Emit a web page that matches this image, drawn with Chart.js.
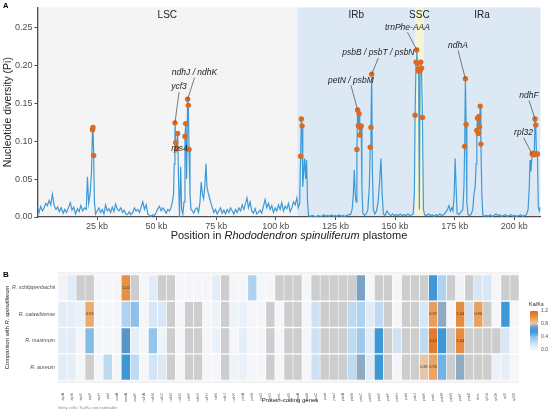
<!DOCTYPE html>
<html>
<head>
<meta charset="utf-8">
<script src="https://cdn.jsdelivr.net/npm/chart.js@4.4.1/dist/chart.umd.min.js"></script>
<style>
  html, body { margin: 0; padding: 0; background: #fff; }
  #wrap { position: relative; width: 550px; height: 413px; }
  #piChart { position: absolute; left: 0; top: 0; }
  #kaksChart { position: absolute; left: 0; top: 250px; }
</style>
</head>
<body>
<div id="wrap">
  <canvas id="piChart" width="550" height="250"></canvas>
  <canvas id="kaksChart" width="550" height="163"></canvas>
</div>
<script>
Chart.defaults.font.family = '"Liberation Sans", Arial, sans-serif';
Chart.defaults.color = '#4d4d4d';
Chart.defaults.animation = false;
const FONT = '"Liberation Sans", Arial, sans-serif';

// ---------- panel A: sliding-window nucleotide diversity ----------
const positionKb = [
  // LSC
  0, 0.7, 1.4, 2.1, 2.8, 3.5, 4.2, 4.9, 5.6, 6.3, 7.0, 7.8, 8.5, 9.2, 10.0, 10.8, 11.5, 12.2, 13.0, 13.8,
  14.5, 15.2, 16.0, 16.8, 17.5, 18.2, 19.0, 19.8, 20.5, 21.0, 21.5, 22.1, 22.7, 23.1, 23.3, 23.6, 23.9, 24.4,
  25.1, 25.8, 26.5, 27.2, 27.9, 28.6, 29.3, 30.0, 30.7, 31.4, 32.1, 32.8, 33.5, 34.2, 35.0, 35.7, 36.4, 37.1,
  37.8, 38.5, 39.2, 40.0, 40.7, 41.4, 42.1, 42.8, 43.5, 44.2, 44.9, 45.6, 46.3, 47.0, 47.7, 48.4, 49.1, 49.8,
  50.5, 51.2, 51.9, 52.6, 53.3, 54.0, 54.7, 55.4, 56.0, 56.6,
  57.1, 57.4, 57.7, 58.0, 58.4, 58.8, 59.2, 59.6, 60.1, 60.5, 61.0, 61.5, 61.9, 62.2, 62.6, 63.0, 63.3, 63.6, 64.0, 64.4,
  65.0, 65.6, 66.2, 66.9, 67.6, 68.2, 68.7, 69.2, 69.7, 70.2, 70.7, 71.1, 71.6, 72.2, 72.8, 73.4, 74.0, 74.7,
  75.4, 76.1, 76.8, 77.5, 78.2, 78.9, 79.6, 80.3, 81.0, 81.7, 82.4, 83.1, 83.8, 84.5, 85.2, 85.9, 86.6, 87.3,
  87.9, 88.5, 89.2, 89.9, 90.6, 91.3, 92.0, 92.7, 93.4, 94.1, 94.8, 95.5, 96.2, 96.9, 97.6, 98.3, 99.0, 99.7,
  100.4, 101.1, 101.8, 102.5, 103.2, 103.9, 104.6, 105.3, 106.0, 106.7, 107.4, 108.1, 108.8, 109.4,
  // IRb
  110.0, 110.4, 110.7, 111.0, 111.3, 111.7, 112.1, 112.5, 112.9, 113.3, 113.7, 114.5, 115.3, 116.1, 116.9,
  117.7, 118.5, 119.3, 120.1, 120.9, 121.7, 122.5, 123.3, 124.1, 124.9, 125.7, 126.5, 127.3, 128.1, 128.9,
  129.7, 130.5, 131.3, 132.0, 132.5, 132.9, 133.3, 133.7, 134.0, 134.3, 134.6, 134.9, 135.2, 135.5, 135.8,
  136.1, 136.5, 137.2, 137.9, 138.6, 139.2, 139.6, 139.9, 140.2, 140.5, 140.9, 141.5, 142.2, 142.9, 143.5,
  144.1, 144.6, 145.1, 145.8, 146.6, 147.4, 148.2, 149.0, 149.8, 150.6, 151.4, 152.2, 153.0, 153.8, 154.6,
  155.4, 156.2, 157.0, 157.6,
  // SSC
  158.1, 158.4, 158.8, 159.1, 159.4, 159.7, 159.9, 160.2, 160.5, 160.8, 161.1, 161.5, 161.9, 162.4,
  // IRa
  163.2, 164.0, 164.8, 165.6, 166.4, 167.2, 168.0, 168.8, 169.6, 170.4, 171.2, 172.0, 172.6, 173.2, 173.8,
  174.3, 174.8, 175.2, 175.6, 176.0, 176.8, 177.6, 178.4, 178.9, 179.2, 179.5, 179.8, 180.1, 180.6, 181.3,
  182.0, 182.6, 183.1, 183.6, 184.0, 184.3, 184.6, 184.9, 185.1, 185.4, 185.7, 186.0, 186.4, 186.8, 187.5,
  188.3, 189.1, 189.9, 190.7, 191.5, 192.3, 193.1, 193.9, 194.7, 195.5, 196.3, 197.1, 197.9, 198.7, 199.5,
  200.3, 201.1, 201.9, 202.7, 203.5, 204.3, 205.1, 205.8, 206.3, 206.6, 207.0, 207.5, 208.0, 208.4, 208.7,
  209.0, 209.3, 209.7, 210.1, 210.5, 210.9
];
const piValues = [
  // LSC
  0.014, 0.006, 0.014, 0.008, 0.012, 0.018, 0.015, 0.022, 0.016, 0.030, 0.015, 0.010, 0.013, 0.007, 0.012, 0.005, 0.010, 0.006, 0.012, 0.019,
  0.009, 0.013, 0.004, 0.011, 0.007, 0.015, 0.008, 0.012, 0.010, 0.053, 0.018, 0.030, 0.060, 0.115, 0.118, 0.081, 0.020, 0.004,
  0.008, 0.012, 0.006, 0.010, 0.004, 0.016, 0.008, 0.011, 0.006, 0.013, 0.007, 0.017, 0.010, 0.008, 0.012, 0.006, 0.009, 0.004,
  0.003, 0.007, 0.003, 0.006, 0.012, 0.008, 0.010, 0.006, 0.013, 0.020, 0.010, 0.016, 0.004, 0.002, 0.001, 0.003, 0.002, 0.006,
  0.011, 0.014, 0.008, 0.012, 0.009, 0.005, 0.010, 0.008, 0.012, 0.020,
  0.030, 0.070, 0.124, 0.098, 0.090, 0.110, 0.050, 0.000, 0.066, 0.010, 0.004, 0.020, 0.106, 0.123, 0.050, 0.155, 0.147, 0.089, 0.030, 0.010,
  0.008, 0.005, 0.010, 0.012, 0.006, 0.020, 0.046, 0.030, 0.024, 0.040, 0.070, 0.040, 0.032, 0.025, 0.018, 0.012, 0.006, 0.010,
  0.004, 0.008, 0.012, 0.005, 0.009, 0.004, 0.010, 0.006, 0.012, 0.008, 0.004, 0.010, 0.006, 0.012, 0.008, 0.016, 0.010, 0.018,
  0.025, 0.012, 0.020, 0.008, 0.005, 0.011, 0.004, 0.006, 0.009, 0.005, 0.014, 0.023, 0.012, 0.018, 0.010, 0.015, 0.006, 0.012,
  0.008, 0.016, 0.010, 0.019, 0.008, 0.014, 0.011, 0.018, 0.007, 0.012, 0.020, 0.016, 0.025, 0.012,
  // IRb
  0.018, 0.080, 0.129, 0.120, 0.040, 0.060, 0.077, 0.050, 0.075, 0.020, 0.002, 0.001, 0.002, 0.001, 0.000,
  0.002, 0.001, 0.001, 0.003, 0.001, 0.002, 0.001, 0.003, 0.001, 0.002, 0.001, 0.003, 0.001, 0.002, 0.001,
  0.002, 0.003, 0.003, 0.010, 0.030, 0.062, 0.030, 0.020, 0.089, 0.141, 0.120, 0.136, 0.108, 0.118, 0.120,
  0.040, 0.005, 0.002, 0.004, 0.010, 0.040, 0.092, 0.118, 0.188, 0.060, 0.010, 0.004, 0.008, 0.020, 0.045,
  0.077, 0.030, 0.004, 0.002, 0.008, 0.004, 0.002, 0.004, 0.002, 0.003, 0.002, 0.004, 0.002, 0.003, 0.002,
  0.004, 0.002, 0.003, 0.004,
  // SSC
  0.030, 0.134, 0.204, 0.220, 0.202, 0.195, 0.192, 0.010, 0.193, 0.204, 0.196, 0.131, 0.010, 0.003,
  // IRa
  0.002, 0.004, 0.002, 0.003, 0.001, 0.003, 0.002, 0.004, 0.002, 0.003, 0.006, 0.010, 0.015, 0.008, 0.012,
  0.008, 0.030, 0.077, 0.040, 0.005, 0.003, 0.006, 0.010, 0.040, 0.093, 0.182, 0.122, 0.020, 0.003, 0.002,
  0.004, 0.010, 0.030, 0.040, 0.070, 0.114, 0.130, 0.110, 0.132, 0.119, 0.146, 0.096, 0.030, 0.003, 0.001,
  0.002, 0.001, 0.003, 0.001, 0.002, 0.004, 0.002, 0.003, 0.001, 0.002, 0.003, 0.001, 0.002, 0.003, 0.001,
  0.002, 0.001, 0.002, 0.003, 0.001, 0.002, 0.003, 0.010, 0.040, 0.075, 0.060, 0.083, 0.084, 0.082, 0.129,
  0.121, 0.083, 0.083, 0.012, 0.008, 0.013
];
const xTicksKb = [25, 50, 75, 100, 125, 150, 175, 200];
const yTicksPi = [0, 0.05, 0.10, 0.15, 0.20, 0.25];
const regionNames = ['LSC', 'IRb', 'SSC', 'IRa'];
const regionStartKb = [0, 109, 158.4, 162];
const regionEndKb = [109, 158.4, 162, 211];
const hotspotCutoff = 0.08;

// gene annotations: label position and the window it points at
const geneLabels = ['ndhJ / ndhK', 'ycf3', 'rps4', 'petN / psbM', 'psbB / psbT / psbN', 'trnPhe-AAA', 'ndhA', 'ndhF', 'rpl32'];
const labelKb = [65.9, 59.4, 59.6, 131.5, 143.0, 155.2, 176.4, 206.2, 203.9];
const labelPi = [0.190, 0.171, 0.090, 0.180, 0.216, 0.250, 0.226, 0.160, 0.111];
const targetKb = [63.0, 57.7, null, 134.3, 140.2, 159.1, 179.5, 208.7, 207.5];
const targetPi = [0.155, 0.124, null, 0.141, 0.188, 0.220, 0.182, 0.129, 0.083];

const regionFill = { LSC: '#f4f4f4', IRb: '#dce9f5', SSC: '#f3f5d3', IRa: '#dce9f5' };

const piPoints = positionKb.map((kb, i) => ({ x: kb, y: piValues[i] }));
const hotspots = piPoints.filter(p => p.y >= hotspotCutoff);

function drawMixed(ctx, parts, cx, cy, size, color) {
  let total = 0;
  parts.forEach(p => {
    ctx.font = (p[1] ? 'italic ' : '') + size + 'px ' + FONT;
    total += ctx.measureText(p[0]).width;
  });
  let xPos = cx - total / 2;
  ctx.textAlign = 'left';
  ctx.textBaseline = 'middle';
  ctx.fillStyle = color;
  parts.forEach(p => {
    ctx.font = (p[1] ? 'italic ' : '') + size + 'px ' + FONT;
    ctx.fillText(p[0], xPos, cy);
    xPos += ctx.measureText(p[0]).width;
  });
}

const panelA = {
  id: 'panelA',
  beforeDraw(chart) {
    const { ctx, chartArea: a, scales: { x } } = chart;
    ctx.save();
    regionNames.forEach((name, i) => {
      const x0 = x.getPixelForValue(regionStartKb[i]);
      const x1 = x.getPixelForValue(regionEndKb[i]);
      ctx.fillStyle = regionFill[name];
      ctx.fillRect(x0, a.top, x1 - x0, a.bottom - a.top);
    });
    ctx.restore();
  },
  afterDatasetsDraw(chart) {
    const { ctx, chartArea: a, scales: { x, y } } = chart;
    ctx.save();
    ctx.font = '10px ' + FONT;
    ctx.fillStyle = '#222';
    ctx.textAlign = 'center';
    ctx.textBaseline = 'middle';
    regionNames.forEach((name, i) => {
      const cx = x.getPixelForValue((regionStartKb[i] + regionEndKb[i]) / 2);
      ctx.fillText(name, cx, a.top + 8);
    });
    geneLabels.forEach((name, i) => {
      const lx = x.getPixelForValue(labelKb[i]);
      const ly = y.getPixelForValue(labelPi[i]);
      if (targetKb[i] !== null) {
        ctx.strokeStyle = '#444';
        ctx.lineWidth = 0.7;
        ctx.beginPath();
        ctx.moveTo(lx, ly + 5);
        ctx.lineTo(x.getPixelForValue(targetKb[i]), y.getPixelForValue(targetPi[i]));
        ctx.stroke();
      }
      ctx.font = 'italic 8.5px ' + FONT;
      ctx.fillStyle = '#222';
      ctx.fillText(name, lx, ly);
    });
    ctx.restore();
  },
  afterDraw(chart) {
    const { ctx, chartArea: a } = chart;
    ctx.save();
    ctx.font = 'bold 7.5px ' + FONT;
    ctx.fillStyle = '#000';
    ctx.textAlign = 'left';
    ctx.textBaseline = 'middle';
    ctx.fillText('A', 3, 6);
    drawMixed(ctx, [['Position in ', false], ['Rhododendron spinuliferum', true], [' plastome', false]],
      (a.left + a.right) / 2, 236, 11, '#222');
    ctx.restore();
  }
};

new Chart(document.getElementById('piChart'), {
  type: 'line',
  data: {
    datasets: [
      {
        data: hotspots,
        showLine: false,
        pointRadius: 2.7,
        pointBackgroundColor: '#db6a22',
        pointBorderWidth: 0
      },
      {
        data: piPoints,
        borderColor: '#3d9ad6',
        borderWidth: 1.2,
        pointRadius: 0,
        tension: 0,
        fill: false
      }
    ]
  },
  options: {
    responsive: false,
    layout: { padding: { top: 7, right: 9.5, bottom: 0, left: 0 } },
    plugins: { legend: { display: false }, tooltip: { enabled: false } },
    scales: {
      x: {
        type: 'linear', min: 0, max: 211,
        afterBuildTicks: s => { s.ticks = xTicksKb.map(v => ({ value: v })); },
        ticks: { callback: v => v + ' kb', font: { size: 9 }, color: '#4d4d4d', padding: 1, maxRotation: 0 },
        grid: { drawOnChartArea: false, tickLength: 3, color: '#4d4d4d' },
        border: { color: '#4d4d4d', width: 1.3 },
        afterFit: s => { s.height = 33; }
      },
      y: {
        min: 0, max: 0.276,
        afterBuildTicks: s => { s.ticks = yTicksPi.map(v => ({ value: v })); },
        ticks: { callback: v => v.toFixed(2), font: { size: 9 }, color: '#4d4d4d', padding: 2 },
        grid: { drawOnChartArea: false, tickLength: 3, color: '#4d4d4d' },
        border: { color: '#4d4d4d', width: 1.3 },
        title: { display: true, text: 'Nucleotide diversity (Pi)', font: { size: 10.5 }, color: '#222', padding: 2 },
        afterFit: s => { s.width = 37.4; }
      }
    }
  },
  plugins: [panelA]
});

// ---------- panel B: Ka/Ks heatmap ----------
const genes = ['atpA', 'atpB', 'atpE', 'atpF', 'atpH', 'atpI', 'ccsA', 'cemA', 'matK', 'ndhA',
  'ndhB', 'ndhC', 'ndhD', 'ndhE', 'ndhF', 'ndhG', 'ndhH', 'ndhI', 'ndhJ', 'ndhK',
  'petA', 'petB', 'petD', 'petG', 'petL', 'petN', 'psaA', 'psaB', 'psaC', 'psaI',
  'psaJ', 'psbA', 'psbB', 'psbC', 'psbD', 'psbE', 'psbF', 'psbH', 'psbI', 'psbJ',
  'psbK', 'psbL', 'psbM', 'psbN', 'psbT', 'psbZ', 'rbcL', 'rpl14', 'rpl16', 'rpl2', 'rpl20'];
const species = ['R. schlippenbachii', 'R. catawbiense', 'R. maximum', 'R. aureum'];
const kaksSchlippenbachii = [0.02, 0.1, null, null, 0, 0, 0, 1.02, null, 0,
  0.1, null, null, 0, 0, 0, 0, 0.08, null, 0,
  0, 0.3, 0, 0, null, null, null, 0, null, null,
  null, null, null, 0.72, 0, null, null, 0, null, null,
  null, 0.55, 0.3, null, 0.02, null, 0.15, 0.15, 0, null, null];
const kaksCatawbiense = [0.1, 0.08, 0.05, 0.93, 0, 0, 0, 0.3, 0.4, 0,
  0.15, 0.15, null, 0, null, null, 0, 0.03, null, 0.03,
  0.05, 0, 0, null, 0, null, null, 0, 0.2, null,
  null, null, 0.25, 0.3, 0.1, 0.25, null, 0, null, null,
  0.15, 0.97, 0.75, 0, 1.04, 0.2, 0.96, null, 0, 0.55, 0];
const kaksMaximum = [0.1, 0.1, 0, 0.42, 0, 0, 0, 0.65, 0.08, 0,
  0.38, 0.03, null, 0, null, null, 0, 0.05, null, 0,
  0.08, 0, 0, null, 0, null, null, 0, 0.2, null,
  null, null, 0.25, 0.35, 0.1, 0.55, null, 0.2, null, null,
  0.25, 1.12, 0.55, null, 1.04, null, null, null, null, 0.15, 0];
const kaksAureum = [0.1, 0.08, 0, null, 0, 0.25, 0, 0.55, 0.25, 0,
  0.18, 0.12, null, 0, null, null, 0, 0, null, 0.03,
  0.05, 0, 0, null, 0, null, null, 0, 0.2, null,
  null, null, 0.25, 0.75, 0.1, 0.55, null, 0, null, null,
  0.81, 0.95, 0.45, null, 0.75, null, null, null, 0.05, 0.08, 0];
const kaksRows = [kaksSchlippenbachii, kaksCatawbiense, kaksMaximum, kaksAureum];
const legendTicks = [0, 0.4, 0.8, 1.2];
const labelCutoff = 0.8;

const kaksStops = [
  [0, [244, 246, 249]], [0.2, [206, 226, 244]], [0.4, [142, 193, 233]], [0.55, [62, 152, 214]],
  [0.68, [96, 150, 198]], [0.76, [150, 174, 196]], [0.81, [230, 198, 166]], [0.93, [237, 170, 110]],
  [1.0, [232, 148, 72]], [1.2, [221, 106, 28]]
];
function kaksColor(v) {
  if (v <= kaksStops[0][0]) return 'rgb(' + kaksStops[0][1].join(',') + ')';
  for (let i = 1; i < kaksStops.length; i++) {
    const [v1, c1] = kaksStops[i];
    if (v <= v1) {
      const [v0, c0] = kaksStops[i - 1];
      const t = (v - v0) / (v1 - v0);
      return 'rgb(' + c0.map((c, k) => Math.round(c + (c1[k] - c) * t)).join(',') + ')';
    }
  }
  return 'rgb(' + kaksStops[kaksStops.length - 1][1].join(',') + ')';
}
const NA_COLOR = '#cdcdcd';

const panelB = {
  id: 'panelB',
  beforeDraw(chart) {
    const { ctx, chartArea: a } = chart;
    ctx.save();
    ctx.fillStyle = '#f2f2f2';
    ctx.fillRect(a.left, a.top, a.right - a.left, a.bottom - a.top);
    ctx.restore();
  },
  afterDatasetsDraw(chart) {
    const { ctx, chartArea: a, scales: { x, y } } = chart;
    ctx.save();
    ctx.font = '4px ' + FONT;
    ctx.fillStyle = '#333';
    ctx.textAlign = 'center';
    ctx.textBaseline = 'middle';
    kaksRows.forEach((vals, i) => {
      const r = species.length - 1 - i;
      vals.forEach((v, j) => {
        if (v !== null && v >= labelCutoff) {
          ctx.fillText(v.toFixed(2), x.getPixelForValue(j), y.getPixelForValue(r));
        }
      });
    });
    // row names (species), right-aligned next to the panel
    ctx.font = 'italic 5.3px ' + FONT;
    ctx.fillStyle = '#4d4d4d';
    ctx.textAlign = 'right';
    species.forEach((name, i) => {
      ctx.fillText(name, a.left - 3, y.getPixelForValue(species.length - 1 - i));
    });
    ctx.restore();
  },
  afterDraw(chart) {
    const { ctx, chartArea: a } = chart;
    ctx.save();
    ctx.font = 'bold 8px ' + FONT;
    ctx.fillStyle = '#000';
    ctx.textAlign = 'left';
    ctx.textBaseline = 'middle';
    ctx.fillText('B', 3, 25);

    // axis titles
    ctx.save();
    ctx.translate(7, (a.top + a.bottom) / 2);
    ctx.rotate(-Math.PI / 2);
    drawMixed(ctx, [['Comparison with ', false], ['R. spinuliferum', true]], 0, 0, 5.8, '#222');
    ctx.restore();
    drawMixed(ctx, [['Protein-coding genes', false]], 290, 150, 6, '#222');

    ctx.font = '4.3px ' + FONT;
    ctx.fillStyle = '#8a8a8a';
    ctx.textAlign = 'left';
    ctx.fillText('Grey cells: Ka/Ks not estimable', a.left, 158);

    // colour bar legend
    const barX = 530, barW = 8, barTop = 61, barBottom = 100;
    const maxV = legendTicks[legendTicks.length - 1];
    const ly = v => barBottom - (v / maxV) * (barBottom - barTop);
    const grad = ctx.createLinearGradient(0, barBottom, 0, barTop);
    for (let k = 0; k <= 24; k++) {
      const v = maxV * k / 24;
      grad.addColorStop(k / 24, kaksColor(v));
    }
    ctx.fillStyle = grad;
    ctx.fillRect(barX, barTop, barW, barBottom - barTop);
    ctx.font = '5.5px ' + FONT;
    ctx.fillStyle = '#222';
    ctx.fillText('Ka/Ks', barX - 1, barTop - 7);
    ctx.font = '5px ' + FONT;
    ctx.fillStyle = '#4d4d4d';
    ctx.strokeStyle = '#ffffff';
    ctx.lineWidth = 0.5;
    legendTicks.forEach(v => {
      ctx.fillText(v.toFixed(1), barX + barW + 3, ly(v));
      ctx.beginPath();
      ctx.moveTo(barX, ly(v)); ctx.lineTo(barX + 1.5, ly(v));
      ctx.moveTo(barX + barW - 1.5, ly(v)); ctx.lineTo(barX + barW, ly(v));
      ctx.stroke();
    });
    ctx.restore();
  }
};

new Chart(document.getElementById('kaksChart'), {
  type: 'bar',
  data: {
    labels: genes,
    datasets: kaksRows.map((vals, i) => {
      const r = species.length - 1 - i;
      return {
        label: species[i],
        data: vals.map(() => [r - 0.5, r + 0.5]),
        backgroundColor: vals.map(v => v === null ? NA_COLOR : kaksColor(v)),
        borderColor: '#ffffff',
        borderWidth: { top: 1, bottom: 1, left: 0.6, right: 0.6 },
        borderSkipped: false,
        barPercentage: 1,
        categoryPercentage: 1,
        grouped: false
      };
    })
  },
  options: {
    responsive: false,
    layout: { padding: { top: 22, right: 31, bottom: 0, left: 0 } },
    plugins: { legend: { display: false }, tooltip: { enabled: false } },
    scales: {
      x: {
        grid: { display: false },
        border: { display: false },
        ticks: { autoSkip: false, maxRotation: 90, minRotation: 90, font: { size: 3.6 }, color: '#555', padding: 2 },
        afterFit: s => { s.height = 30; }
      },
      y: {
        min: -0.6, max: 3.6,
        grid: { display: false },
        border: { display: false },
        afterBuildTicks: s => { s.ticks = species.map((_, i) => ({ value: i })); },
        ticks: { display: false },
        afterFit: s => { s.width = 58; }
      }
    }
  },
  plugins: [panelB]
});
</script>
</body>
</html>
